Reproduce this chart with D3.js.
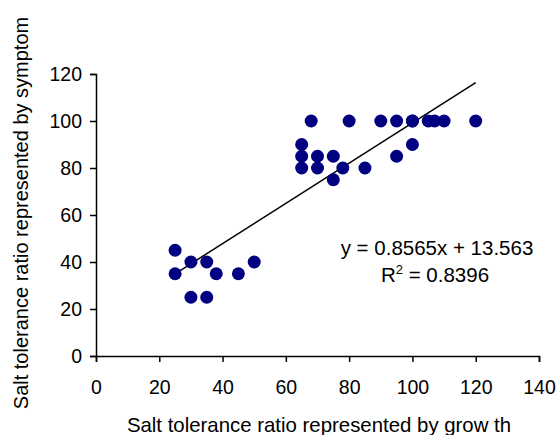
<!DOCTYPE html>
<html>
<head>
<meta charset="utf-8">
<script src="https://cdn.jsdelivr.net/npm/d3@7"></script>
<style>
  body { margin: 0; background: #fff; }
  text { font-family: "Liberation Sans", Arial, sans-serif; fill: #000; }
</style>
</head>
<body>
<svg></svg>
<script>
var width = 557,
    height = 435;

// growth ratio (x) vs symptom ratio (y)
var growthVals  = [25, 25, 30, 35, 38, 45, 50, 30, 35,
                   65, 65, 65, 70, 70, 68, 75, 75, 78, 85, 95, 100,
                   80, 90, 95, 100, 100, 105, 107, 110, 120];
var symptomVals = [45, 35, 40, 40, 35, 35, 40, 25, 25,
                   90, 85, 80, 85, 80, 100, 85, 75, 80, 80, 85, 90,
                   100, 100, 100, 100, 100, 100, 100, 100, 100];
var xTicks = [0, 20, 40, 60, 80, 100, 120, 140];
var yTicks = [0, 20, 40, 60, 80, 100, 120];
var slope = 0.8565, intercept = 13.563, rSquared = 0.8396;

var points = growthVals.map((g, i) => ({x: g, y: symptomVals[i]}));

var svg = d3.select('svg')
            .attr('width', width)
            .attr('height', height);

var x = d3.scaleLinear().domain([0, 140]).range([96, 539]);
var y = d3.scaleLinear().domain([0, 120]).range([356, 74]);

var xAxis = svg.append('g')
    .attr('transform', 'translate(0,356)')
    .call(d3.axisBottom(x).tickValues(xTicks).tickSize(6).tickPadding(18));
var yAxis = svg.append('g')
    .attr('transform', 'translate(96,0)')
    .call(d3.axisLeft(y).tickValues(yTicks).tickSize(6).tickPadding(8));

[xAxis, yAxis].forEach(a => {
  a.select('.domain').attr('stroke', '#000').attr('stroke-width', 1.5);
  a.selectAll('.tick line').attr('stroke', '#000').attr('stroke-width', 1.5);
  a.selectAll('.tick text')
    .style('font-family', '"Liberation Sans", Arial, sans-serif')
    .style('font-size', '19.5px')
    .attr('fill', '#000');
});

// trend line over data range
var xExt = d3.extent(growthVals);
svg.append('line')
    .attr('x1', x(xExt[0])).attr('y1', y(slope * xExt[0] + intercept))
    .attr('x2', x(xExt[1])).attr('y2', y(slope * xExt[1] + intercept))
    .attr('stroke', '#000')
    .attr('stroke-width', 1.5);

svg.selectAll('.dot')
    .data(points)
    .enter()
    .append('circle')
    .classed('dot', true)
    .attr('cx', d => x(d.x))
    .attr('cy', d => y(d.y))
    .attr('r', 6.5)
    .attr('fill', '#000080');

svg.append('text')
    .attr('x', 437).attr('y', 255)
    .style('font-size', '20.5px')
    .style('text-anchor', 'middle')
    .text('y = ' + slope + 'x + ' + intercept);

var r2 = svg.append('text')
    .attr('x', 435).attr('y', 282)
    .style('font-size', '20.5px')
    .style('text-anchor', 'middle');
r2.append('tspan').text('R');
r2.append('tspan').attr('dy', -8).style('font-size', '13px').text('2');
r2.append('tspan').attr('dy', 8).text(' = ' + rSquared);

svg.append('text')
    .attr('x', 319).attr('y', 432)
    .style('font-size', '20.4px')
    .style('text-anchor', 'middle')
    .text('Salt tolerance ratio represented by grow th');

svg.append('text')
    .attr('transform', 'translate(28,213) rotate(-90)')
    .style('font-size', '20px')
    .style('text-anchor', 'middle')
    .text('Salt tolerance ratio represented by symptom');
</script>
</body>
</html>
